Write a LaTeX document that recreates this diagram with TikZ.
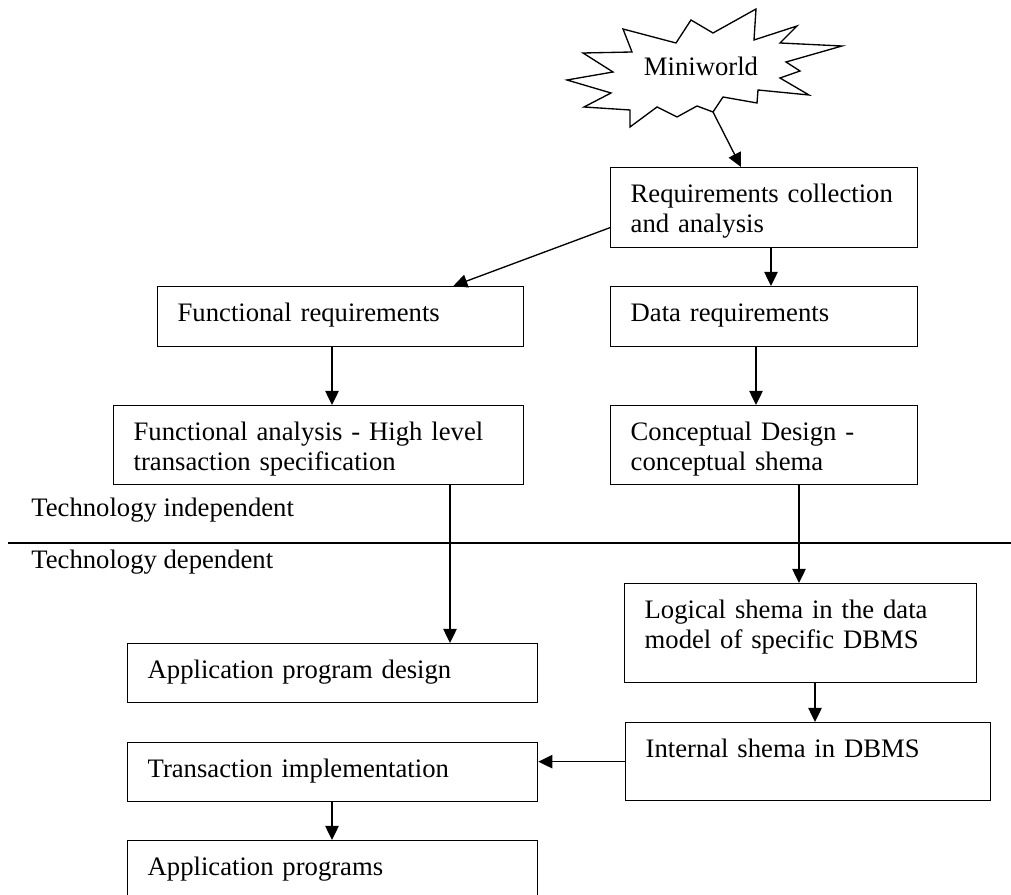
\documentclass[tikz,border=0pt]{standalone}
\usepackage{fontspec}
\setmainfont{Liberation Serif}
\usetikzlibrary{positioning,calc,arrows.meta}

\begin{document}
\begin{tikzpicture}[x=0.45pt, y=-0.45pt,
		font=\fontsize{12}{13.5}\selectfont,
		stage/.style={draw, line width=0.6pt, anchor=north west, align=left, inner xsep=9pt, inner ysep=0pt, text height=15.75pt},
		flow/.style={line width=0.6pt, -{Triangle[length=6.3pt, width=6pt]}}]
		\clip (0,0) rectangle (1011,895);
		% the miniworld burst
		\draw[line width=0.6pt, line join=miter] (567,80) -- (613,72) -- (583,53) -- (632,52) -- (623,29) -- (676,43) -- (691,20) -- (713,33) -- (756,9) -- (754,40) -- (797,26) -- (780,43) -- (842,46) -- (786,62) -- (800,71) -- (780,78) -- (809,95) -- (758,90) -- (757,103) -- (723,97) -- (713,112) -- (697,106) -- (677,117) -- (657,107) -- (630,127) -- (630,110) -- (584,107) -- (611,93) -- cycle;
		\node[anchor=base, inner sep=0pt] (world) at (701,76) {Miniworld};
		\coordinate (burst) at (713,112);
		% design steps
		\node[stage, text width=120.15pt, text depth=20.25pt] (req) at (610,167) {Requirements collection\\and analysis};
		\node[stage, text width=146.7pt, text depth=11.25pt] (funreq) at (157,286) {Functional requirements};
		\node[stage, text width=120.15pt, text depth=11.25pt] (datareq) at (610,286) {Data requirements};
		\node[stage, text width=166.5pt, text depth=19.8pt] (funan) at (113,405) {Functional analysis - High level\\transaction specification};
		\node[stage, text width=120.15pt, text depth=19.8pt] (concept) at (610,405) {Conceptual Design -\\conceptual shema};
		\node[stage, text width=140.4pt, text depth=28.8pt] (logical) at (624,583) {Logical shema in the data\\model of specific DBMS};
		\node[stage, text width=166.5pt, text depth=10.8pt] (appdes) at (127,643) {Application program design};
		\node[stage, text width=146.25pt, text depth=19.35pt] (internal) at (625,722) {Internal shema in DBMS};
		\node[stage, text width=166.5pt, text depth=10.8pt] (trans) at (127,742) {Transaction implementation};
		\node[stage, text width=166.5pt, text depth=11.25pt] (appprog) at (127,840) {Application programs};
		% independent / dependent split
		\coordinate (splitL) at (8,543);
		\coordinate (splitR) at (1011,543);
		\draw[line width=0.6pt] (splitL) -- (splitR);
		\node[anchor=base west, inner sep=0pt] (indep) at (31,517) {Technology independent};
		\node[anchor=base west, inner sep=0pt] (dep) at (31,569) {Technology dependent};
		% arrows
		\coordinate (laneA) at (332,0);
		\coordinate (laneB) at (450,0);
		\coordinate (laneC) at (756,0);
		\coordinate (laneD) at (771,0);
		\coordinate (laneE) at (799,0);
		\coordinate (laneF) at (815,0);
		\draw[flow] (burst) -- ($(req.north west)+(131,0)$);
		\draw[flow] ($(req.west)+(0,20)$) -- ($(funreq.north east)+(-71,0)$);
		\draw[flow] (req.south -| laneD) -- (datareq.north -| laneD);
		\draw[flow] (funreq.south -| laneA) -- (funan.north -| laneA);
		\draw[flow] (datareq.south -| laneC) -- (concept.north -| laneC);
		\draw[flow] (funan.south -| laneB) -- (appdes.north -| laneB);
		\draw[flow] (concept.south -| laneE) -- (logical.north -| laneE);
		\draw[flow] (logical.south -| laneF) -- (internal.north -| laneF);
		\draw[flow] (internal.west) -- (internal.west -| trans.east);
		\draw[flow] (trans.south -| laneA) -- (appprog.north -| laneA);
	\end{tikzpicture}
\end{document}
